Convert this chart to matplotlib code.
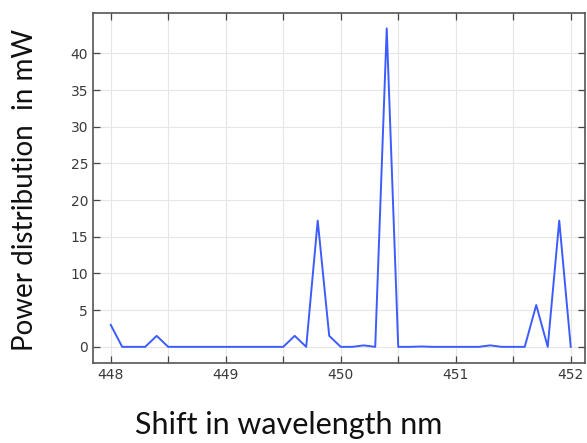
import numpy as np
import matplotlib
matplotlib.use("Agg")
import matplotlib.pyplot as plt
from matplotlib.ticker import MultipleLocator

# Wavelength samples (nm) and power (mW)
wavelength = [
    448.0, 448.1, 448.2, 448.3, 448.4, 448.5, 448.6, 448.7, 448.8, 448.9,
    449.0, 449.1, 449.2, 449.3, 449.4, 449.5, 449.6, 449.7, 449.8, 449.9,
    450.0, 450.1, 450.2, 450.3, 450.4, 450.5, 450.6, 450.7, 450.8, 450.9,
    451.0, 451.1, 451.2, 451.3, 451.4, 451.5, 451.6, 451.7, 451.8, 451.9,
    452.0,
]
power = [
    3.0, 0.0, 0.0, 0.0, 1.5, 0.0, 0.0, 0.0, 0.0, 0.0,
    0.0, 0.0, 0.0, 0.0, 0.0, 0.0, 1.5, 0.0, 17.2, 1.5,
    0.0, 0.0, 0.2, 0.0, 43.4, 0.0, 0.0, 0.05, 0.0, 0.0,
    0.0, 0.0, 0.0, 0.2, 0.0, 0.0, 0.0, 5.7, 0.0, 17.2,
    0.0,
]
y_ticks = [0, 5, 10, 15, 20, 25, 30, 35, 40]

x_label = "Shift in wavelength nm"
y_label = "Power distribution  in mW"


def main():
    fig = plt.figure(figsize=(5.87, 4.43), dpi=100)
    ax = fig.add_axes([0.1584, 0.1806, 0.8382, 0.7901])

    ax.plot(wavelength, power, color="#3d5cff", linewidth=1.4)

    ax.set_xlim(447.846, 452.124)
    ax.set_ylim(-2.2, 45.5)
    ax.xaxis.set_major_locator(MultipleLocator(1))
    ax.xaxis.set_minor_locator(MultipleLocator(0.5))
    ax.set_yticks(y_ticks)

    ax.grid(True, which="both", axis="x", color="#e6e6e6", linewidth=0.8)
    ax.grid(True, which="major", axis="y", color="#e6e6e6", linewidth=0.8)
    ax.set_axisbelow(True)

    ax.tick_params(which="both", direction="in", top=True, right=True,
                   length=5, width=0.9, color="#444444",
                   labelsize=10, labelcolor="#3a3a3a", pad=3.5)
    for sp in ax.spines.values():
        sp.set_color("#555555")
        sp.set_linewidth(1.2)

    fig.text(0.492, 0.04, x_label, ha="center", va="center",
             fontsize=22, family="Lato", color="#111111")
    fig.text(0.043, 0.571, y_label, ha="center", va="center", rotation=90,
             fontsize=20, family="Lato", color="#111111")

    fig.savefig("out.png", dpi=100)


if __name__ == "__main__":
    main()
